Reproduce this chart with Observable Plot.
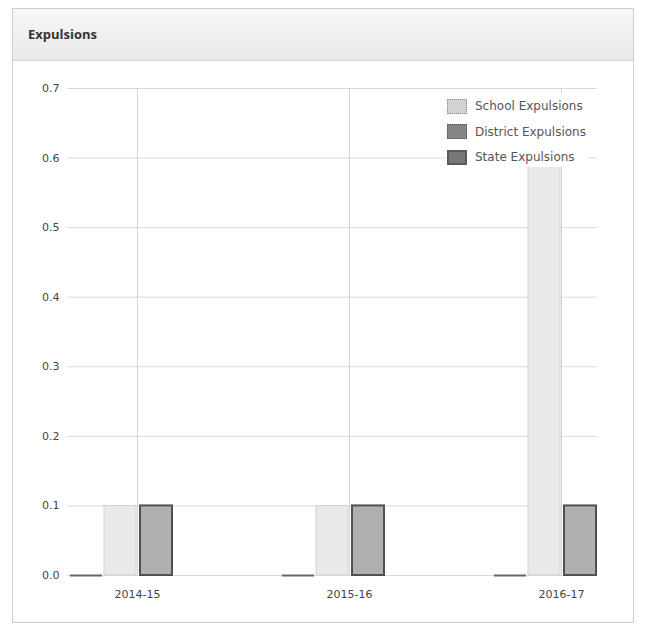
<!DOCTYPE html>
<html>
<head>
<meta charset="utf-8">
<script src="https://cdn.jsdelivr.net/npm/d3@7"></script>
<script src="https://cdn.jsdelivr.net/npm/@observablehq/plot@0.6"></script>
<style>
  html, body { margin: 0; padding: 0; background: #fff; }
  body { width: 648px; height: 629px; position: relative; overflow: hidden; font-family: "DejaVu Sans", sans-serif; }
  #panel { position: absolute; left: 12px; top: 8px; width: 622px; height: 615px; border: 1px solid #cdcdcd; box-sizing: border-box; background: #fff; }
  #header { position: absolute; left: 0; top: 0; right: 0; height: 52px; background: linear-gradient(#f7f7f7, #e9e9e9); border-bottom: 1px solid #d2d2d2; box-sizing: border-box; }
  #title { position: absolute; left: 15px; top: 16px; font-family: "Open Sans", sans-serif; font-weight: 700; font-size: 13px; color: #333; }
  .layer { position: absolute; left: 0; top: 60px; }
  #legend { position: absolute; left: 445px; top: 93px; width: 143px; height: 74px; background: #fff; }
  .item { position: absolute; left: 2px; height: 18px; display: flex; align-items: center; font-size: 12px; color: #555; white-space: nowrap; }
  .sw { width: 20px; height: 15px; box-sizing: border-box; margin-right: 8px; }
</style>
</head>
<body>
<div id="panel"><div id="header"><div id="title">Expulsions</div></div></div>
<div id="back" class="layer"></div>
<div id="front" class="layer"></div>
<div id="legend"></div>
<script>
// Categories
const years = ["2014-15", "2015-16", "2016-17"];
// Series values
const schoolExpulsions = [0.1, 0.1, 0.6];
const districtExpulsions = [0, 0, 0];
const stateExpulsions = [0.1, 0.1, 0.1];
// Series names (legend order) and slot order of bars within a year group
const seriesNames = ["School Expulsions", "District Expulsions", "State Expulsions"];
const slotOrder = ["District Expulsions", "School Expulsions", "State Expulsions", "(empty)"];
// Tick values
const yTicks = [0, 0.1, 0.2, 0.3, 0.4, 0.5, 0.6, 0.7];

const rows = [];
years.forEach((yr, i) => {
  rows.push({year: yr, series: "School Expulsions", value: schoolExpulsions[i]});
  rows.push({year: yr, series: "District Expulsions", value: districtExpulsions[i]});
  rows.push({year: yr, series: "State Expulsions", value: stateExpulsions[i]});
});

const common = {
  width: 648,
  height: 555,
  marginLeft: 67,
  marginRight: 51,
  marginTop: 28,
  marginBottom: 40,
  style: {fontFamily: "DejaVu Sans, sans-serif", fontSize: "11px", color: "#444", background: "transparent"},
  y: {domain: [0, 0.7], label: null}
};

// Background layer: continuous horizontal grid + y axis
const back = Plot.plot({
  ...common,
  marks: [
    Plot.ruleY(yTicks, {stroke: "#dadada"}),
    Plot.axisY({ticks: yTicks, tickFormat: ".1f", tickSize: 0, tickPadding: 8, label: null})
  ]
});
document.getElementById("back").appendChild(back);

// Foreground layer: grouped bars by year
const front = Plot.plot({
  ...common,
  fx: {domain: years, range: [67, 631], paddingInner: 0.34, paddingOuter: 0, label: null},
  x: {domain: slotOrder, paddingInner: 0.05, paddingOuter: 0.03, axis: null},
  y: {domain: [0, 0.7], axis: null},
  marks: [
    Plot.gridFx({stroke: "#d4d4d4", strokeOpacity: 1}),
    Plot.barY(rows.filter(d => d.series === "School Expulsions"), {fx: "year", x: "series", y: "value", fill: "#e9e9e9", stroke: "#d2d2d2", strokeWidth: 1}),
    Plot.barY(rows.filter(d => d.series === "State Expulsions"), {fx: "year", x: "series", y: "value", dx: 2, fill: "#b0b0b0", stroke: "#505050", strokeWidth: 2}),
    Plot.tickY(rows.filter(d => d.series === "District Expulsions"), {fx: "year", x: "series", y: "value", stroke: "#666", strokeWidth: 2}),
    Plot.axisFx({anchor: "bottom", tickSize: 0, tickPadding: 15, label: null})
  ]
});
document.getElementById("front").appendChild(front);

// Legend
const swatchStyles = {
  "School Expulsions": "background:#d2d2d2;border:1px dotted #8a8a8a;",
  "District Expulsions": "background:#858585;border:1px dotted #555;",
  "State Expulsions": "background:#777;border:2px solid #5a5a5a;"
};
const legend = document.getElementById("legend");
seriesNames.forEach((name, i) => {
  const item = document.createElement("div");
  item.className = "item";
  item.style.top = (4 + i * 25.5) + "px";
  const sw = document.createElement("div");
  sw.className = "sw";
  sw.style.cssText = swatchStyles[name];
  const label = document.createElement("span");
  label.textContent = name;
  item.appendChild(sw);
  item.appendChild(label);
  legend.appendChild(item);
});
</script>
</body>
</html>
